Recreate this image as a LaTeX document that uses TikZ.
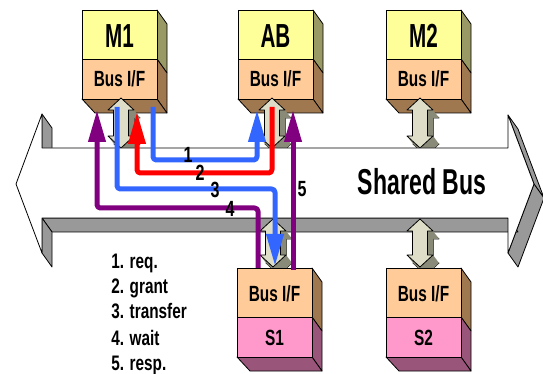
\documentclass[tikz,border=0pt]{standalone}
\usepackage{fontspec}
\setmainfont{Liberation Sans}
\newfontfamily\nf{Liberation Sans}[FakeStretch=0.70]
\newfontfamily\lf{Liberation Sans}[FakeStretch=0.73]
\newfontfamily\ttlfont{Liberation Sans}[FakeStretch=0.62]
\newfontfamily\bigfont{Liberation Sans}[FakeStretch=0.64]
\usetikzlibrary{arrows.meta}
\definecolor{yelfront}{HTML}{FFFF99}
\definecolor{yelside}{HTML}{999966}
\definecolor{peach}{HTML}{FFCC99}
\definecolor{brownside}{HTML}{A0784F}
\definecolor{pinkfront}{HTML}{FF99CC}
\definecolor{mauve}{HTML}{99557A}
\definecolor{arrlight}{HTML}{DDDDC8}
\definecolor{arrdark}{HTML}{8A8A78}
\definecolor{busside}{HTML}{999999}
\definecolor{sigblue}{HTML}{3366FF}
\definecolor{sigred}{HTML}{FF0000}
\definecolor{sigpurple}{HTML}{800080}
\tikzset{
  edge/.style={draw=black,line width=0.6pt,line join=round},
  busif/.style={font=\nf\bfseries\fontsize{16.5}{18}\selectfont,anchor=base,inner sep=0pt},
  ttl/.style={font=\ttlfont\bfseries\fontsize{25}{27}\selectfont,anchor=base,inner sep=0pt},
  slabel/.style={font=\nf\bfseries\fontsize{16.5}{18}\selectfont,anchor=base,inner sep=0pt},
  numlabel/.style={font=\lf\bfseries\fontsize{16.5}{18}\selectfont,anchor=base,inner sep=0pt},
  legend/.style={font=\lf\bfseries\fontsize{15.75}{18}\selectfont,anchor=base west,inner sep=0pt},
  sig/.style={line width=3.75pt,rounded corners=2.5pt,line join=round,
    -{Triangle[length=24pt,width=12.5pt]}},
}
\newcommand\topbox[3]{%
  \pgfmathsetmacro\xa{#2}\pgfmathsetmacro\xb{#2+75}\pgfmathsetmacro\xm{#2+37.5}%
  \filldraw[edge,fill=yelside] (\xb,10) -- (\xb+10,24) -- (\xb+10,73) -- (\xb,59) -- cycle;
  \filldraw[edge,fill=brownside] (\xb,59) -- (\xb+10,73) -- (\xb+10,113) -- (\xb,99) -- cycle;
  \filldraw[edge,fill=brownside] (\xa,99) -- (\xb,99) -- (\xb+10,113) -- (\xa+13,113) -- cycle;
  \filldraw[edge,fill=yelfront] (\xa,10) rectangle (\xb,59);
  \filldraw[edge,fill=peach] (\xa,59) rectangle (\xb,99);
  \node[ttl] (#1t) at (\xm,48) {#3};
  \node[busif] (#1b) at (\xm,87) {Bus I/F};
}
\newcommand\botbox[3]{%
  \pgfmathsetmacro\xa{#2}\pgfmathsetmacro\xb{#2+75}\pgfmathsetmacro\xm{#2+37.5}%
  \filldraw[edge,fill=brownside] (\xb,268) -- (\xb+10,282) -- (\xb+10,331) -- (\xb,317) -- cycle;
  \filldraw[edge,fill=mauve] (\xb,317) -- (\xb+10,331) -- (\xb+10,371) -- (\xb,357) -- cycle;
  \filldraw[edge,fill=mauve] (\xa,357) -- (\xb,357) -- (\xb+10,371) -- (\xa+13,371) -- cycle;
  \filldraw[edge,fill=peach] (\xa,268) rectangle (\xb,317);
  \filldraw[edge,fill=pinkfront] (\xa,317) rectangle (\xb,357);
  \node[busif] (#1b) at (\xm,301) {Bus I/F};
  \node[slabel] (#1t) at (\xm,345) {#3};
}
\newcommand\dapath[3]{(#1,#2) -- (#1+13,#2+12) -- (#1+7.5,#2+12) -- (#1+7.5,#3-12) -- (#1+13,#3-12) -- (#1,#3) -- (#1-13,#3-12) -- (#1-7.5,#3-12) -- (#1-7.5,#2+12) -- (#1-13,#2+12) -- cycle}
\newcommand\dblarr[3]{%
  \filldraw[edge,fill=arrdark,shift={(6,8)}] \dapath{#1}{#2}{#3};
  \fill[arrdark] (#1+13,#2+12) -- (#1+7.5,#2+12) -- (#1+13.5,#2+20) -- (#1+19,#2+20) -- cycle;
  \fill[arrdark] (#1+7.5,#2+12) -- (#1+7.5,#3-12) -- (#1+13.5,#3-4) -- (#1+13.5,#2+20) -- cycle;
  \fill[arrdark] (#1+13,#3-12) -- (#1,#3) -- (#1+6,#3+8) -- (#1+19,#3-4) -- cycle;
  \fill[arrdark] (#1,#3) -- (#1-13,#3-12) -- (#1-7,#3-4) -- (#1+6,#3+8) -- cycle;
  \filldraw[edge,fill=arrlight] \dapath{#1}{#2}{#3};
}
\begin{document}
\begin{tikzpicture}[x=0.75pt,y=-0.75pt]
\useasboundingbox (0,0) rectangle (543,374);
% top row modules
\topbox{m1}{82}{M1}
\topbox{ab}{238}{AB}
\topbox{m2}{386}{M2}
% upper bus connectors
\dblarr{121}{98}{148}
\dblarr{272}{98}{148}
\dblarr{420}{98}{148}
% shared bus (3D double arrow)
\filldraw[edge,fill=busside] (42,114) -- (52,128) -- (52,162) -- (42,148) -- cycle;
\filldraw[edge,fill=busside] (508,115) -- (518,129) -- (544,198) -- (534,184) -- cycle;
\filldraw[edge,fill=busside] (534,184) -- (544,198) -- (518,267) -- (508,253) -- cycle;
\filldraw[edge,fill=busside] (508,218) -- (518,232) -- (52,232) -- (42,218) -- cycle;
\filldraw[edge,fill=busside] (42,218) -- (52,232) -- (52,267) -- (42,253) -- cycle;
\filldraw[edge,fill=white] (16,184) -- (42,114) -- (42,148) -- (508,148) -- (508,115) -- (534,184)
  -- (508,253) -- (508,218) -- (42,218) -- (42,253) -- cycle;
\node[font=\bigfont\bfseries\fontsize{27}{30}\selectfont,anchor=base,inner sep=0pt] (bus) at (422,195) {Shared Bus};
% lower bus connectors
\dblarr{273}{219}{267}
\dblarr{420}{219}{267}
% bottom row modules
\botbox{s1}{237}{S1}
\botbox{s2}{386}{S2}
% signal end points
\coordinate (l1s) at (153,107); \coordinate (l1e) at (257,110); \coordinate (h1) at (0,160);
\coordinate (l2s) at (272,107); \coordinate (l2e) at (137,112); \coordinate (h2) at (0,173);
\coordinate (l3s) at (117,107); \coordinate (l3e) at (275,266); \coordinate (h3) at (0,189);
\coordinate (l4s) at (258,268); \coordinate (l4e) at (97,110);  \coordinate (h4) at (0,208);
\coordinate (l5s) at (293,270); \coordinate (l5e) at (293,110);
\draw[sig,sigblue]   (l1s) -- (l1s |- h1) -| (l1e);
\draw[sig,sigred]    (l2s) -- (l2s |- h2) -| (l2e);
\draw[sig,sigblue]   (l3s) -- (l3s |- h3) -| (l3e);
\draw[sig,sigpurple] (l4s) -- (l4s |- h4) -| (l4e);
\draw[sig,sigpurple] (l5s) -- (l5e);
% step numbers
\node[numlabel] (n1) at (188,163) {1};
\node[numlabel] (n2) at (200,181) {2};
\node[numlabel] (n3) at (215,198) {3};
\node[numlabel] (n4) at (230,217) {4};
\node[numlabel] (n5) at (302,197) {5};
% legend
\node[legend] (g1) at (111,268) {1. req.};
\node[legend] (g2) at (111,293) {2. grant};
\node[legend] (g3) at (111,319) {3. transfer};
\node[legend] (g4) at (111,345) {4. wait};
\node[legend] (g5) at (111,370) {5. resp.};
\end{tikzpicture}
\end{document}
